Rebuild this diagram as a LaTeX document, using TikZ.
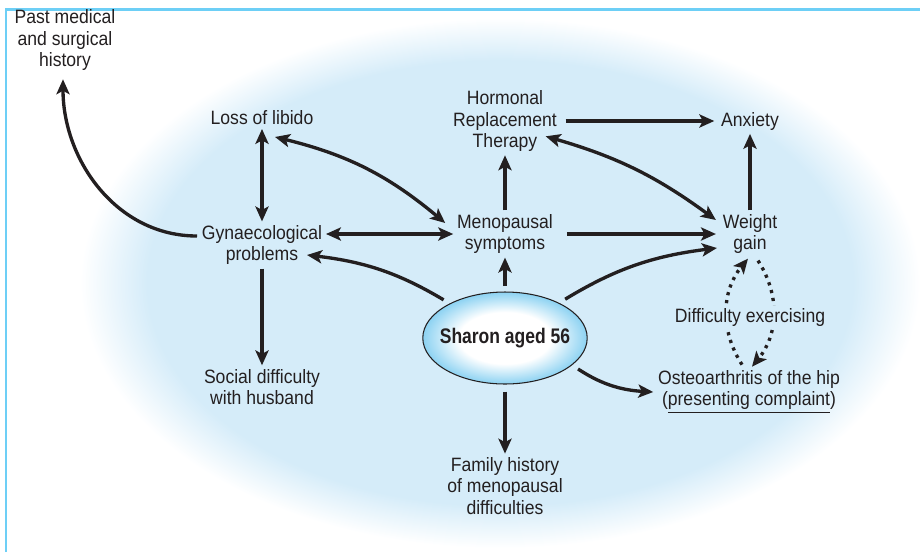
\documentclass[tikz,border=0pt]{standalone}
\usepackage{fontspec}
\setmainfont[FakeStretch=0.91]{Liberation Sans}
\newfontfamily\sharonfont[FakeStretch=0.83]{Liberation Sans}
\usetikzlibrary{arrows.meta,shapes.geometric,calc}

\definecolor{ink}{HTML}{231F20}
\definecolor{haze}{HTML}{D5ECF9}
\definecolor{rim}{HTML}{8CD2F2}
\definecolor{borderblue}{HTML}{6DCFF6}

\pgfdeclareradialshading{hazefade}{\pgfpoint{0bp}{0bp}}{color(0bp)=(haze); color(21bp)=(haze); color(25bp)=(white); color(50bp)=(white)}
\pgfdeclareradialshading{sharonglow}{\pgfpoint{0bp}{0bp}}{color(0bp)=(white); color(14bp)=(white); color(25bp)=(rim); color(50bp)=(rim)}

\begin{document}
\begin{tikzpicture}[x=0.02cm, y=0.02cm,
    >={Stealth[length=8.5pt,width=7.5pt,inset=2pt]},
    every node/.style={align=center, text=ink, inner sep=2pt, font=\fontsize{11pt}{12.2pt}\selectfont},
    link/.style={draw=ink, line width=1.9pt},
    hop/.style={link, dash pattern=on 1.8pt off 2.8pt}]
      \useasboundingbox (0,0) rectangle (920,-552);
      % backdrop
      \shade[shading=hazefade] (500,-283) ellipse [x radius=8.4cm, y radius=5.3cm];
      \draw[borderblue, line width=0.06cm] (6,-552) -- (6,-9) -- (920,-9);
      % nodes
      \node (past) at (65,-40) {Past medical\\and surgical\\history};
      \node (libido) at (262,-118) {Loss of libido};
      \node (hrt) at (505,-121) {Hormonal\\Replacement\\Therapy};
      \node (anxiety) at (750,-121) {Anxiety};
      \node (gyn) at (262,-245) {Gynaecological\\problems};
      \node (meno) at (505,-234) {Menopausal\\symptoms};
      \node (weight) at (750,-234) {Weight\\gain};
      \node (social) at (262,-387) {Social difficulty\\with husband};
      \node (osteo) at (749,-392) {Osteoarthritis of the hip\\(\underline{presenting complaint})};
      \node (family) at (505,-486) {Family history\\of menopausal\\difficulties};
      \node[ellipse, draw=ink, line width=0.6pt, shading=sharonglow, inner xsep=-4pt, inner ysep=0pt,
            minimum height=1.84cm, font=\sharonfont\bfseries\fontsize{12pt}{14pt}\selectfont] (sharon) at (505,-338) {Sharon aged 56};
      % around gynaecological problems
      \draw[link,->] ($(gyn.west)+(-1,9)$) to[out=180,in=-90] ($(past.south)+(-2,-5)$);
      \draw[link,<->] (libido) -- (gyn);
      \draw[link,->] (gyn) -- (social);
      \draw[link,<->] (meno.west -| gyn.east) -- (meno.west);
      \draw[link,<->] ($(libido.south)+(13,-8)$) to[bend left=13] ($(meno.west)+(-8,11)$);
      % out of Sharon
      \draw[link,->,shorten <=4pt] (sharon.148) to[bend right=12] ($(gyn.east)+(-19,-10)$);
      \draw[link,->,shorten <=3pt] (sharon) -- (meno);
      \draw[link,->,shorten <=4pt] (sharon) -- (family);
      \draw[link,->,shorten <=4pt] (sharon.33) to[bend left=12] ($(weight.west)+(-2,-14)$);
      \draw[link,->,shorten <=4pt] (sharon.-22) to[bend right=15] ($(osteo.west)+(-1,0)$);
      % menopause, HRT and weight
      \draw[link,->] (meno) -- (hrt);
      \draw[link,->] ($(meno.east)+(10,0)$) -- ($(weight.west)+(-3,0)$);
      \draw[link,->] ($(hrt.east)+(5,0)$) -- ($(anxiety.west)+(-3,0)$);
      \draw[link,<->] ($(hrt.south east)+(-15,19)$) to[bend left=10] ($(weight.west)+(-3,14)$);
      \draw[link,->] (weight) -- (anxiety);
      % weight and the hip
      \draw[hop,->] ($(weight.south)+(8,-3)$) to[bend left=36] ($(osteo.north)+(3,0)$);
      \draw[hop,->] ($(osteo.north)+(-7,2)$) to[bend left=36] ($(weight.south)+(-2,-1)$);
      \node[fill=haze, inner sep=1pt] (exercise) at (750,-317) {Difficulty exercising};
\end{tikzpicture}
\end{document}
